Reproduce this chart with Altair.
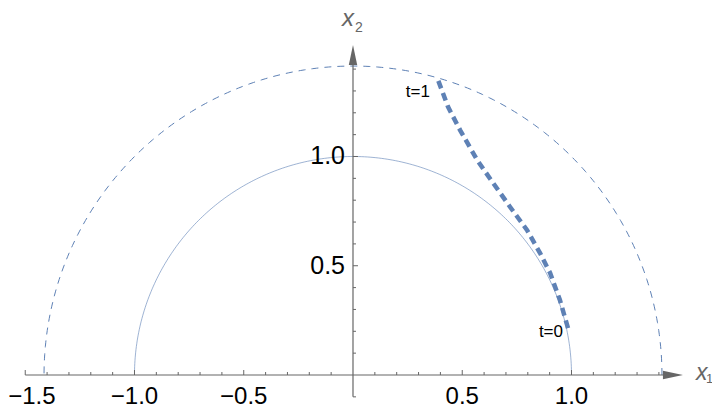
import numpy as np
import pandas as pd
import altair as alt

# ---- data ----
circle_radii = [1.0, 1.414]
curve_x = [0.984, 0.947, 0.902, 0.856, 0.796, 0.719, 0.641, 0.568, 0.490, 0.435, 0.384]
curve_y = [0.215, 0.343, 0.467, 0.558, 0.664, 0.769, 0.879, 0.984, 1.121, 1.227, 1.364]
end_labels = ["t=0", "t=1"]
x_major = [-1.5, -1.0, -0.5, 0.5, 1.0]
x_major_text = ["\u22121.5", "\u22121.0", "\u22120.5", "0.5", "1.0"]
x_minor = [round(v, 1) for v in np.arange(-1.5, 1.45, 0.1) if abs(v) > 1e-9]
y_major = [0.5, 1.0]
y_major_text = ["0.5", "1.0"]
y_minor = [round(v, 1) for v in np.arange(-0.1, 1.45, 0.1) if abs(v) > 1e-9]
axis_end = 1.51
y_axis_start = -0.1

# ---- styles ----
BLUE = "#5E81B5"
AX = "#666666"
FONT = "Liberation Sans, Arial, sans-serif"
PX = 218.5  # pixels per unit (for tick lengths)

xs = alt.Scale(domain=[-1.5789, 1.6430], nice=False, zero=False)
ys = alt.Scale(domain=[-0.1556, 1.6796], nice=False, zero=False)


def X(f):
    return alt.X(f, type="quantitative", scale=xs, axis=None)


def Y(f):
    return alt.Y(f, type="quantitative", scale=ys, axis=None)


# circles (upper halves)
theta = np.linspace(0, np.pi, 241)
circ = []
for r in circle_radii:
    for i, t in enumerate(theta):
        circ.append({"r": r, "i": i, "x": r * np.cos(t), "y": r * np.sin(t)})
circ = pd.DataFrame(circ)

unit = alt.Chart(circ[circ.r == circle_radii[0]]).mark_line(
    color=BLUE, strokeWidth=1, opacity=0.6
).encode(x=X("x"), y=Y("y"), order="i:Q")
outer = alt.Chart(circ[circ.r == circle_radii[1]]).mark_line(
    color=BLUE, strokeWidth=1, strokeDash=[7, 6]
).encode(x=X("x"), y=Y("y"), order="i:Q")

cdf = pd.DataFrame({"x": curve_x, "y": curve_y, "i": range(len(curve_x))})
curve = alt.Chart(cdf).mark_line(
    color=BLUE, strokeWidth=4.5, strokeDash=[8, 5]
).encode(x=X("x"), y=Y("y"), order="i:Q")

# axes
axl = pd.DataFrame({"x": [x_major[0], 0], "x2": [axis_end - 0.05, 0],
                    "y": [0, y_axis_start], "y2": [0, axis_end - 0.05]})
axes = alt.Chart(axl).mark_rule(color=AX, strokeWidth=1.2).encode(
    x=X("x"), x2="x2", y=Y("y"), y2="y2")

arx = alt.Chart(pd.DataFrame({"x": [axis_end], "y": [0]})).mark_point(
    shape="M-1,-0.42L1,0L-1,0.42Z", size=400, filled=True, color=AX, opacity=1,
    xOffset=-10).encode(x=X("x"), y=Y("y"))
ary = alt.Chart(pd.DataFrame({"x": [0], "y": [axis_end]})).mark_point(
    shape="M-0.42,1L0,-1L0.42,1Z", size=400, filled=True, color=AX, opacity=1,
    yOffset=10).encode(x=X("x"), y=Y("y"))

# ticks
maj_len, min_len = 5 / PX, 3 / PX
xt = pd.DataFrame({"x": x_minor, "y": 0.0,
                   "y2": [maj_len if any(abs(v - m) < 1e-9 for m in x_major) else min_len for v in x_minor]})
xticks = alt.Chart(xt).mark_rule(color=AX, strokeWidth=1).encode(
    x=X("x"), y=Y("y"), y2="y2")
yt = pd.DataFrame({"y": y_minor, "x": 0.0,
                   "x2": [maj_len if any(abs(v - m) < 1e-9 for m in y_major) else min_len for v in y_minor]})
yticks = alt.Chart(yt).mark_rule(color=AX, strokeWidth=1).encode(
    y=Y("y"), x=X("x"), x2="x2")

# tick labels (the leftmost one is kept inside the page edge)
xlab = pd.DataFrame({"x": x_major, "y": 0.0, "t": x_major_text})
xl_first = alt.Chart(xlab.iloc[:1]).mark_text(
    font=FONT, fontSize=24, color="black", align="left", baseline="alphabetic", dx=-17, dy=29
).encode(x=X("x"), y=Y("y"), text="t:N")
xl = alt.Chart(xlab.iloc[1:]).mark_text(
    font=FONT, fontSize=24, color="black", align="center", baseline="alphabetic", dy=29
).encode(x=X("x"), y=Y("y"), text="t:N")
yl = alt.Chart(pd.DataFrame({"y": y_major, "x": 0.0, "t": y_major_text})).mark_text(
    font=FONT, fontSize=25, color="black", align="right", baseline="alphabetic", dx=-8, dy=8
).encode(x=X("x"), y=Y("y"), text="t:N")

# axis names
def lab(x, y, s, size, dx, dy, italic=False):
    return alt.Chart(pd.DataFrame({"x": [x], "y": [y], "t": [s]})).mark_text(
        font=FONT, fontSize=size, color=AX, align="left", baseline="alphabetic",
        dx=dx, dy=dy, fontStyle="italic" if italic else "normal"
    ).encode(x=X("x"), y=Y("y"), text="t:N")

n1 = lab(axis_end, 0, "x", 23, 13, 5, True)
s1 = lab(axis_end, 0, "1", 13, 23, 8)
n2 = lab(0, axis_end, "x", 24, -11, -19, True)
s2 = lab(0, axis_end, "2", 14, 2, -13)

# end labels on curve
t0 = alt.Chart(pd.DataFrame({"x": [curve_x[0]], "y": [curve_y[0]], "t": [end_labels[0]]})).mark_text(
    font=FONT, fontSize=17, color="black", align="right", baseline="alphabetic", dx=-5, dy=9
).encode(x=X("x"), y=Y("y"), text="t:N")
t1 = alt.Chart(pd.DataFrame({"x": [curve_x[-1]], "y": [curve_y[-1]], "t": [end_labels[1]]})).mark_text(
    font=FONT, fontSize=17, color="black", align="right", baseline="alphabetic", dx=-7, dy=20
).encode(x=X("x"), y=Y("y"), text="t:N")

chart = alt.layer(
    unit, outer, axes, xticks, yticks, curve, arx, ary, xl_first, xl, yl, n1, s1, n2, s2, t0, t1
).properties(
    width=704, height=401, padding=0,
    autosize=alt.AutoSizeParams(type="none")
).configure_view(stroke=None)

chart.save("out.html", embed_options={"renderer": "svg", "actions": False})
